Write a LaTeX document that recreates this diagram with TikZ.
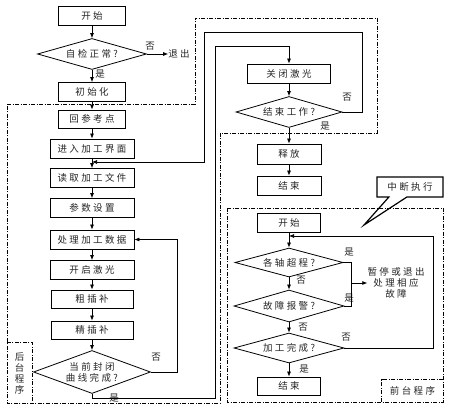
\documentclass[tikz,border=0pt]{standalone}
\usepackage{fontspec}
\newfontfamily\cjk[LetterSpace=25]{Noto Sans CJK SC}
\usetikzlibrary{shapes.geometric,shapes.callouts,arrows.meta}
\begin{document}
\begin{tikzpicture}[x=1pt,y=-1pt,
  every node/.style={font=\cjk\fontsize{9.5}{11}\selectfont, text=black!85},
  box/.style={draw=black, line width=0.8pt, rectangle, minimum height=19pt, inner sep=0pt},
  dia/.style={draw=black, line width=0.8pt, diamond, inner sep=0pt, aspect=3.5},
  lab/.style={inner sep=0pt},
  arr/.style={-{Latex[length=5pt,width=4pt]}, line width=0.7pt},
  ln/.style={line width=0.7pt},
  dd/.style={line width=0.8pt, dash pattern=on 4pt off 1.5pt on 1pt off 1.5pt},
]
\useasboundingbox[fill=white] (0,0) rectangle (452,411);

% dash-dot regions
\draw[dd] (7,104) -- (195,104) -- (195,18) -- (377,18) -- (377,133) -- (220,133) -- (220,403) -- (7,403) -- cycle;
\draw[dd] (227,208) rectangle (443,402);

% left column
\node[box, minimum width=67pt] (s1) at (92,15.5) {开始};
\node[dia, minimum width=109pt, minimum height=31pt] (d1) at (92,54) {自检正常?};
\node[lab] (ex) at (179,54) {退出};
\node[box, minimum width=67pt] (b2) at (92,92) {初始化};
\node[box, minimum width=67pt, minimum height=18pt] (b3) at (92,119) {回参考点};
\node[box, minimum width=84pt] (b4) at (92,148.5) {进入加工界面};
\node[box, minimum width=84pt] (b5) at (92,178) {读取加工文件};
\node[box, minimum width=84pt] (b6) at (92,208) {参数设置};
\node[box, minimum width=84pt] (b7) at (92,239.5) {处理加工数据};
\node[box, minimum width=84pt] (b8) at (92,270) {开启激光};
\node[box, minimum width=82pt, minimum height=18pt] (b9) at (92,299) {粗插补};
\node[box, minimum width=82pt, minimum height=18pt] (b10) at (92,330) {精插补};
\node[dia, minimum width=117pt, minimum height=43pt, align=center, aspect=2.7] (d2) at (92,372) {当前封闭\\曲线完成?};

\node[lab] (l1) at (150,46) {否};
\node[lab] (l2) at (100,74) {是};
\node[lab] (l3) at (156,357) {否};
\node[lab] (l4) at (114,398) {是};

\node[inner sep=0pt, minimum width=25pt, minimum height=60pt, align=center] (bt) at (19.5,373) {后\\台\\程\\序};
\draw[dd] (bt.north west) -- (bt.north east) -- (bt.south east);

\draw[arr] (s1) -- (d1);
\draw[arr] (d1.east) -- (ex.west);
\draw[arr] (d1) -- (b2);
\draw[arr] (b2) -- (b3);
\draw[arr] (b3) -- (b4);
\draw[arr] (b4) -- (b5);
\draw[arr] (b5) -- (b6);
\draw[arr] (b6) -- (b7);
\draw[arr] (b7) -- (b8);
\draw[arr] (b8) -- (b9);
\draw[arr] (b9) -- (b10);
\draw[arr] (b10) -- (d2);

% right column
\node[box, minimum width=83pt] (r1) at (289,73.5) {关闭激光};
\node[dia, minimum width=106pt, minimum height=31pt] (r2) at (289,112) {结束工作?};
\node[box, minimum width=64pt, minimum height=20pt] (r3) at (289,154) {释放};
\node[box, minimum width=64pt] (r4) at (289,185.5) {结束};
\node[lab] (l5) at (347,97) {否};
\node[lab] (l6) at (325,126) {是};

\draw[arr] (r1) -- (r2);
\draw[arr] (r2) -- (r3);
\draw[arr] (r3) -- (r4);

\coordinate (j1) at (92,162);
\draw[arr] (r2.east) -- (362,112) -- (362,32) -- (204,32) -- (204,162) -- (j1);
\draw[arr] (d2.east) -- (177,372) |- (b7.east);
\draw[arr] (d2.south) -- (92,398) -- (215,398) -- (215,46) -| (r1.north);

% foreground program
\node[box, minimum width=63pt] (f1) at (289,222.5) {开始};
\node[dia, minimum width=108pt, minimum height=29pt] (f2) at (289,262.5) {各轴超程?};
\node[dia, minimum width=110pt, minimum height=32pt] (f3) at (289,306) {故障报警?};
\node[dia, minimum width=110pt, minimum height=30pt] (f4) at (289,348) {加工完成?};
\node[box, minimum width=63pt, minimum height=18pt] (f5) at (289,386) {结束};
\node[inner sep=0pt, align=center] (ft) at (396,283) {暂停或退出\\处理相应\\故障};

\node[lab] (l7) at (349,252) {是};
\node[lab] (l8) at (301,280) {否};
\node[lab] (l9) at (349,298) {是};
\node[lab] (l10) at (303,327) {否};
\node[lab] (l11) at (346,337) {否};
\node[lab] (l12) at (304,369) {是};

\draw[arr] (f1) -- (f2);
\draw[arr] (f2) -- (f3);
\draw[arr] (f3) -- (f4);
\draw[arr] (f4) -- (f5);
\draw[ln] (f2.east) -- (351,262.5) -- (351,306) -- (f3.east);
\draw[arr] (351,283) -- (ft.west);
\coordinate (j2) at (289,236);
\draw[arr] (f4.east) -- (433,348) -- (433,236) -- (j2);

\node[rectangle callout, draw=black, line width=1.2pt, minimum width=66pt, minimum height=20pt, inner sep=0pt,
  callout absolute pointer={(364,225)}, callout pointer width=18pt] (ci) at (410,187) {中断执行};

\node[inner sep=0pt, minimum width=61pt, minimum height=22pt] (fp) at (412.5,391) {前台程序};
\draw[dd] (fp.south west) -- (fp.north west) -- (fp.north east);
\end{tikzpicture}
\end{document}
